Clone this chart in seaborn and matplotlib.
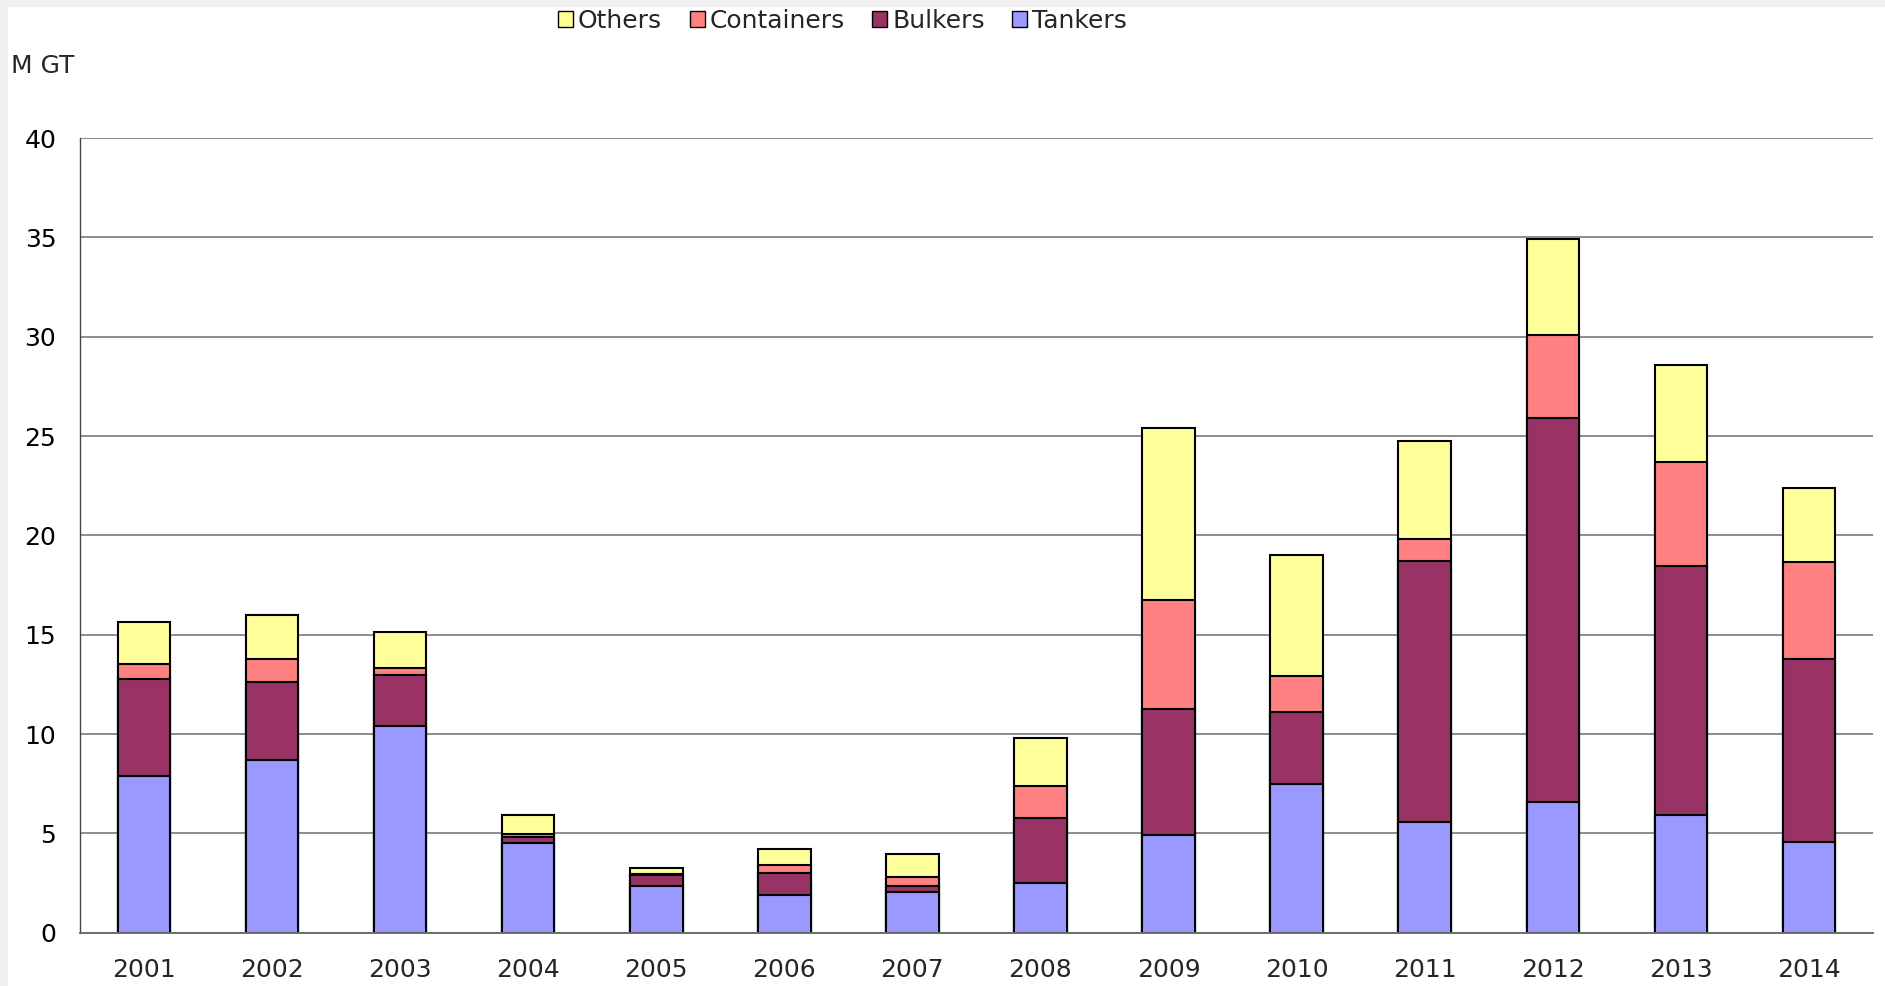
import matplotlib
matplotlib.use("Agg")
import matplotlib.pyplot as plt
import matplotlib.patches as mpatches
import pandas as pd
import seaborn as sns

years = ["2001", "2002", "2003", "2004", "2005", "2006", "2007",
         "2008", "2009", "2010", "2011", "2012", "2013", "2014"]
tankers = [7.9, 8.7, 10.4, 4.5, 2.35, 1.9, 2.05, 2.5, 4.9, 7.5, 5.55, 6.6, 5.95, 4.55]
bulkers = [4.85, 3.9, 2.55, 0.3, 0.55, 1.1, 0.3, 3.3, 6.35, 3.6, 13.15, 19.3, 12.5, 9.25]
containers = [0.8, 1.2, 0.4, 0.15, 0.05, 0.4, 0.45, 1.6, 5.5, 1.8, 1.1, 4.2, 5.25, 4.85]
others = [2.1, 2.2, 1.8, 1.0, 0.3, 0.8, 1.15, 2.4, 8.65, 6.1, 4.95, 4.8, 4.9, 3.75]

series = ["Tankers", "Bulkers", "Containers", "Others"]
colors = {"Tankers": "#9999FF", "Bulkers": "#993366",
          "Containers": "#FF8080", "Others": "#FFFF99"}

df = pd.DataFrame({"year": years, "Tankers": tankers, "Bulkers": bulkers,
                   "Containers": containers, "Others": others})
# cumulative heights, drawn from the top layer down
cum = df[series].cumsum(axis=1)
cum["year"] = df["year"]

sns.set_style("white")
plt.rcParams["font.family"] = ["DejaVu Sans"]

fig = plt.figure(figsize=(18.85, 9.86), dpi=100)
fig.patch.set_facecolor("#f0f0f0")
fig.add_artist(mpatches.Rectangle((0.004, 0.0), 0.996, 0.993, transform=fig.transFigure,
                                  facecolor="white", edgecolor="none", zorder=0))
ax = fig.add_axes([0.0424, 0.054, 0.9512, 0.806])
ax.set_facecolor("none")

for name in reversed(series):
    sns.barplot(data=cum, x="year", y=name, color=colors[name], width=0.41,
                edgecolor="black", linewidth=1.5, saturation=1, ax=ax)

ax.set_ylim(0, 40)
ax.set_xlim(-0.5, 13.5)
ax.set_yticks(range(0, 41, 5))
ax.yaxis.grid(True, color="#8c8c8c", linewidth=1.4)
ax.set_axisbelow(True)
ax.set_xlabel("")
ax.set_ylabel("")

for s in ["top", "right"]:
    ax.spines[s].set_visible(False)
ax.spines["left"].set_color("#444444")
ax.spines["left"].set_linewidth(1.0)
ax.spines["bottom"].set_color("#6e6e6e")
ax.spines["bottom"].set_linewidth(1.4)

ax.tick_params(axis="y", length=7, width=1.0, pad=10, labelsize=18,
               color="#444444", labelcolor="black")
ax.set_xticks([i + 0.5 for i in range(-1, 14)], minor=True)
ax.tick_params(axis="x", which="major", length=0, pad=18, labelsize=18)
ax.tick_params(axis="x", which="minor", length=9, width=1.0, color="#444444")

fig.text(0.006, 0.933, "M GT", fontsize=18, ha="left", va="center")

handles = [mpatches.Patch(facecolor=colors[n], edgecolor="black", linewidth=1.0, label=n)
           for n in ["Others", "Containers", "Bulkers", "Tankers"]]
fig.legend(handles=handles, loc="center", bbox_to_anchor=(0.447, 0.979), ncol=4,
           frameon=False, handlelength=0.6, handleheight=0.6,
           handletextpad=0.2, columnspacing=1.1,
           prop={"family": ["Liberation Sans Narrow", "DejaVu Sans"], "size": 18})

fig.savefig("out.png", dpi=100)
